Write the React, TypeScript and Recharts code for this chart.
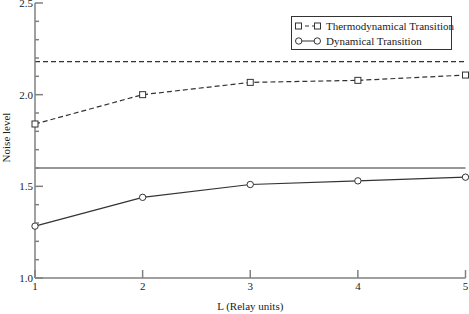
import React from 'react';
import { LineChart, Line, XAxis, YAxis, ReferenceLine } from 'recharts';

const relayUnits = [1, 2, 3, 4, 5];
const thermodynamical = [1.84, 2.0, 2.067, 2.078, 2.107];
const dynamical = [1.283, 1.44, 1.51, 1.53, 1.55];
const thermoThreshold = 2.18;
const dynamicalThreshold = 1.6;
const xTicks = [1, 2, 3, 4, 5];
const yTicks = [1.0, 1.1, 1.2, 1.3, 1.4, 1.5, 1.6, 1.7, 1.8, 1.9, 2.0, 2.1, 2.2, 2.3, 2.4, 2.5];
const yLabelled = ['1.0', '1.5', '2.0', '2.5'];
const seriesNames = ['Thermodynamical Transition', 'Dynamical Transition'];

const data = relayUnits.map((L, i) => ({ L, thermo: thermodynamical[i], dyn: dynamical[i] }));

const FONT = '"Liberation Serif", "Times New Roman", serif';
const AXIS_GRAY = '#808080';
const LINE = '#333333';
const TEXT = '#222222';

const isMajor = (v: number) => yLabelled.includes(v.toFixed(1));

const LeftTick = (props: any) => {
  const { x, y, payload } = props;
  const major = isMajor(payload.value);
  return (
    <g>
      <line x1={x} y1={y} x2={x + (major ? 8 : 4)} y2={y} stroke={AXIS_GRAY} strokeWidth={1.5} />
      {major && (
        <text x={x - 2} y={y} textAnchor="end" dominantBaseline="central" fontFamily={FONT} fontSize={11} fill={TEXT}>
          {payload.value.toFixed(1)}
        </text>
      )}
    </g>
  );
};

const RightTick = (props: any) => {
  const { x, y, payload } = props;
  const major = isMajor(payload.value);
  return <line x1={x} y1={y} x2={x - (major ? 8 : 4)} y2={y} stroke={AXIS_GRAY} strokeWidth={1.5} />;
};

const BottomTick = (props: any) => {
  const { x, y, payload } = props;
  return (
    <g>
      <line x1={x} y1={y} x2={x} y2={y - 8} stroke={AXIS_GRAY} strokeWidth={1.5} />
      <text x={x} y={y + 12} textAnchor="middle" fontFamily={FONT} fontSize={11} fill={TEXT}>
        {payload.value}
      </text>
    </g>
  );
};

const TopTick = (props: any) => {
  const { x, y } = props;
  return <line x1={x} y1={y} x2={x} y2={y + 8} stroke={AXIS_GRAY} strokeWidth={1.5} />;
};

const SquareDot = (props: any) => {
  const { cx, cy, index } = props;
  if (cx == null || cy == null) return null;
  return <rect key={`sq-${index}`} x={cx - 3} y={cy - 3} width={6} height={6} fill="#fff" stroke={LINE} strokeWidth={1} />;
};

const CircleDot = (props: any) => {
  const { cx, cy, index } = props;
  if (cx == null || cy == null) return null;
  return <circle key={`ci-${index}`} cx={cx} cy={cy} r={3.2} fill="#fff" stroke={LINE} strokeWidth={1} />;
};

const LegendBox = () => (
  <div
    style={{
      position: 'absolute',
      left: 291,
      top: 16,
      width: 161,
      border: `1px solid ${LINE}`,
      background: '#fff',
      fontFamily: FONT,
      fontSize: 11,
      color: TEXT,
      padding: '1px 0px 1px 3px',
      boxSizing: 'border-box',
      whiteSpace: 'nowrap',
      lineHeight: '14px',
    }}
  >
    <div style={{ display: 'flex', alignItems: 'center', height: 15 }}>
      <svg width={26} height={10} style={{ marginRight: 5, flexShrink: 0 }}>
        <line x1={3} y1={5} x2={23} y2={5} stroke={LINE} strokeDasharray="4 3" strokeWidth={1} />
        <rect x={0.5} y={2} width={6} height={6} fill="#fff" stroke={LINE} />
        <rect x={19.5} y={2} width={6} height={6} fill="#fff" stroke={LINE} />
      </svg>
      <span>{seriesNames[0]}</span>
    </div>
    <div style={{ display: 'flex', alignItems: 'center', height: 15 }}>
      <svg width={26} height={10} style={{ marginRight: 5, flexShrink: 0 }}>
        <line x1={3} y1={5} x2={23} y2={5} stroke={LINE} strokeWidth={1} />
        <circle cx={3.7} cy={5} r={3.2} fill="#fff" stroke={LINE} />
        <circle cx={22.3} cy={5} r={3.2} fill="#fff" stroke={LINE} />
      </svg>
      <span>{seriesNames[1]}</span>
    </div>
  </div>
);

export default function App() {
  return (
    <div style={{ position: 'absolute', left: 0, top: 0, width: 469, height: 314, background: '#fff' }}>
      <LineChart width={469} height={314} data={data} margin={{ top: 3, right: 3.5, bottom: 0, left: 0 }}>
        <XAxis
          xAxisId="bottom"
          dataKey="L"
          type="number"
          domain={[1, 5]}
          ticks={xTicks}
          height={36}
          tickSize={0}
          tickMargin={0}
          tick={<BottomTick />}
          tickLine={false}
          axisLine={{ stroke: AXIS_GRAY, strokeWidth: 1.5 }}
          interval={0}
          label={{
            content: (p: any) => {
              const vb = p.viewBox;
              return (
                <text x={vb.x + vb.width / 2} y={vb.y + 32} textAnchor="middle" fontFamily={FONT} fontSize={11} fill={TEXT}>
                  L (Relay units)
                </text>
              );
            },
          }}
        />
        <XAxis
          xAxisId="top"
          orientation="top"
          dataKey="L"
          type="number"
          domain={[1, 5]}
          ticks={xTicks}
          height={0}
          tickSize={0}
          tickMargin={0}
          tick={<TopTick />}
          tickLine={false}
          axisLine={{ stroke: '#000', strokeWidth: 1.5 }}
          interval={0}
        />
        <YAxis
          yAxisId="left"
          type="number"
          domain={[1, 2.5]}
          ticks={yTicks}
          width={35}
          tickSize={0}
          tickMargin={0}
          tick={<LeftTick />}
          tickLine={false}
          axisLine={{ stroke: AXIS_GRAY, strokeWidth: 1.5 }}
          interval={0}
          label={{
            content: (p: any) => {
              const vb = p.viewBox;
              const cx = 6;
              const cy = vb.y + vb.height / 2 - 3;
              return (
                <text
                  x={cx}
                  y={cy}
                  transform={`rotate(-90 ${cx} ${cy})`}
                  textAnchor="middle"
                  dominantBaseline="central"
                  fontFamily={FONT}
                  fontSize={11}
                  fill={TEXT}
                >
                  Noise level
                </text>
              );
            },
          }}
        />
        <YAxis
          yAxisId="right"
          orientation="right"
          type="number"
          domain={[1, 2.5]}
          ticks={yTicks}
          width={0}
          tickSize={0}
          tickMargin={0}
          tick={<RightTick />}
          tickLine={false}
          axisLine={{ stroke: '#000', strokeWidth: 1.5 }}
          interval={0}
        />
        <ReferenceLine xAxisId="bottom" yAxisId="left" y={thermoThreshold} stroke={LINE} strokeWidth={1.2} strokeDasharray="5 3" />
        <ReferenceLine xAxisId="bottom" yAxisId="left" y={dynamicalThreshold} stroke={LINE} strokeWidth={1.2} />
        <Line
          xAxisId="bottom"
          yAxisId="left"
          type="linear"
          dataKey="thermo"
          name={seriesNames[0]}
          stroke={LINE}
          strokeWidth={1.2}
          strokeDasharray="5 3"
          dot={<SquareDot />}
          isAnimationActive={false}
        />
        <Line
          xAxisId="bottom"
          yAxisId="left"
          type="linear"
          dataKey="dyn"
          name={seriesNames[1]}
          stroke={LINE}
          strokeWidth={1.2}
          dot={<CircleDot />}
          isAnimationActive={false}
        />
      </LineChart>
      <LegendBox />
    </div>
  );
}
